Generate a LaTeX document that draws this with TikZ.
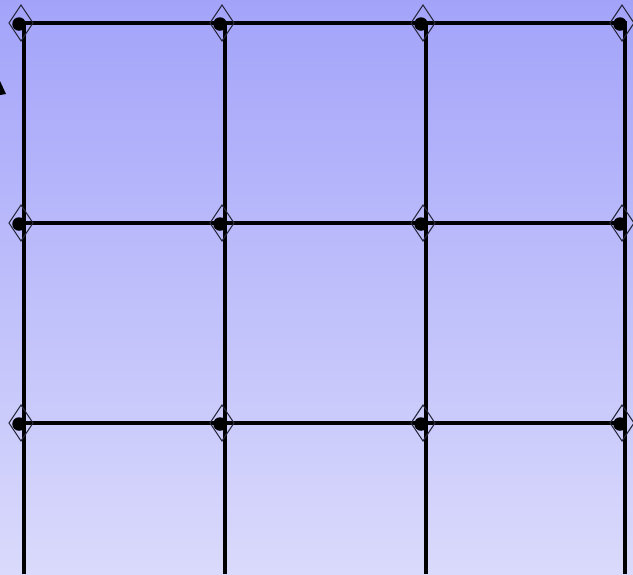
\documentclass[tikz,border=0pt]{standalone}
\usetikzlibrary{calc}
\definecolor{bgtop}{RGB}{163,163,250}
\definecolor{bgbot}{RGB}{218,218,252}
\definecolor{diam}{RGB}{40,40,60}
\begin{document}
\begin{tikzpicture}[x=1pt,y=-1pt,
  gridline/.style={line width=3.4pt,black},
  joint/.style={circle,fill=black,minimum size=13.5pt,inner sep=0pt},
  handle/.style={draw=diam,line width=1.1pt}]
\shade[top color=bgtop,bottom color=bgbot] (0,0) rectangle (633,574);
\useasboundingbox (0,0) rectangle (633,574);
% grid coordinates
\foreach \c/\x in {0/24,1/225,2/426,3/625}{
  \foreach \r/\y in {0/23,1/223,2/423}{
    \coordinate (p\c\r) at (\x,\y);
  }
  \coordinate (b\c) at (\x,574);
}
% lines
\foreach \r in {0,1,2}{
  \draw[gridline] ($(p0\r)+(-4,0)$) -- (p3\r);
}
\foreach \c in {0,1,2,3}{
  \draw[gridline] ($(p\c0)+(0,-1.7)$) -- (b\c);
}
% joints with diamond handles
\foreach \c in {0,1,2,3}{
  \foreach \r in {0,1,2}{
    \draw[handle] ($(p\c\r)+(-3,-18)$) -- ($(p\c\r)+(9,0)$) -- ($(p\c\r)+(-3,18)$) -- ($(p\c\r)+(-15,0)$) -- cycle;
    \node[joint] (j\c\r) at ($(p\c\r)+(-5,1)$) {};
  }
}
% small arrowhead at left edge
\fill[black] (0,81) -- (6,94) -- (0,95) -- cycle;
\end{tikzpicture}
\end{document}
